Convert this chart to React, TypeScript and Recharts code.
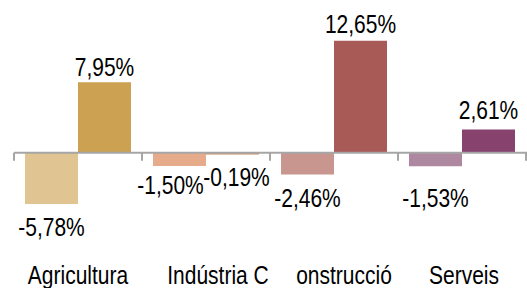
import React from 'react';
import { BarChart, Bar, XAxis, YAxis, Cell, LabelList, ReferenceLine } from 'recharts';

const categories = ['Agricultura', 'Indústria C', 'onstrucció', 'Serveis'];
const firstValues = [-5.78, -1.5, -2.46, -1.53];
const secondValues = [7.95, -0.19, 12.65, 2.61];

const LIGHT = ['#e0c592', '#e6ab8a', '#c9968f', '#ae88a0'];
const DARK = ['#cca152', '#d08a62', '#a85a56', '#87426e'];

// small nudges so the labels sit like the original
const TICK_SHIFT = [0, 12, 10, 2];
const FIRST_NUDGE = [[0, 0], [-9, -4], [0, 0], [0, 9]];
const SECOND_NUDGE = [[0, 2], [4, 0], [0, 0], [0, -3]];

const FONT = '"Liberation Sans", Arial, sans-serif';
const FS = 25;
const SQUEEZE = 0.84; // the original font is a bit narrow

const fmt = (v: number) => v.toFixed(2).replace('.', ',') + '%';

const data = categories.map((name, i) => ({
    name,
    first: firstValues[i],
    second: secondValues[i],
}));

const NarrowText = ({ x, y, children }: any) => (
    <text
        transform={`translate(${x},${y}) scale(${SQUEEZE},1)`}
        textAnchor="middle"
        fontSize={FS}
        fontFamily={FONT}
        fill="#000"
    >
        {children}
    </text>
);

const ValueLabel = (props: any) => {
    const { x, y, width, height, value, index, nudge } = props;
    const top = Math.min(y, y + height);
    const bottom = Math.max(y, y + height);
    const cx = x + width / 2;
    const [dx, dy] = (nudge && nudge[index]) || [0, 0];
    const ty = value >= 0 ? top - 8 : bottom + 32;
    return <NarrowText x={cx + dx} y={ty + dy}>{fmt(value)}</NarrowText>;
};

const CategoryTick = (props: any) => {
    const { x, y, payload, index } = props;
    return <NarrowText x={x + (TICK_SHIFT[index] || 0)} y={y + 17}>{payload.value}</NarrowText>;
};

const ZeroAxis = (props: any) => {
    const { x1, y1, x2 } = props;
    const step = (x2 - x1) / categories.length;
    const ticks = [];
    for (let i = 0; i <= categories.length; i++) {
        const tx = x1 + i * step;
        ticks.push(<line key={i} x1={tx} y1={y1} x2={tx} y2={y1 + 8} stroke="#a6a6a6" strokeWidth={2} />);
    }
    return (
        <g>
            <line x1={x1} y1={y1} x2={x2 + 2} y2={y1} stroke="#a6a6a6" strokeWidth={2} />
            {ticks}
        </g>
    );
};

const App: React.FC = () => {
    return (
        <div style={{ position: 'absolute', left: 0, top: 0, width: 527, height: 288, background: '#fff' }}>
            <BarChart
                width={527}
                height={288}
                data={data}
                margin={{ top: 11, right: 1, bottom: 0, left: 14 }}
                barCategoryGap={11}
                barGap={0}
            >
                <XAxis dataKey="name" axisLine={false} tickLine={false} height={29} tick={<CategoryTick />} interval={0} />
                <YAxis hide domain={[-12, 16]} />
                <Bar dataKey="first" isAnimationActive={false}>
                    {data.map((d, i) => (
                        <Cell key={`l-${i}`} fill={LIGHT[i]} />
                    ))}
                    <LabelList dataKey="first" content={<ValueLabel nudge={FIRST_NUDGE} />} />
                </Bar>
                <Bar dataKey="second" isAnimationActive={false}>
                    {data.map((d, i) => (
                        <Cell key={`d-${i}`} fill={DARK[i]} />
                    ))}
                    <LabelList dataKey="second" content={<ValueLabel nudge={SECOND_NUDGE} />} />
                </Bar>
                <ReferenceLine y={0} shape={<ZeroAxis />} />
            </BarChart>
        </div>
    );
};

export default App;
